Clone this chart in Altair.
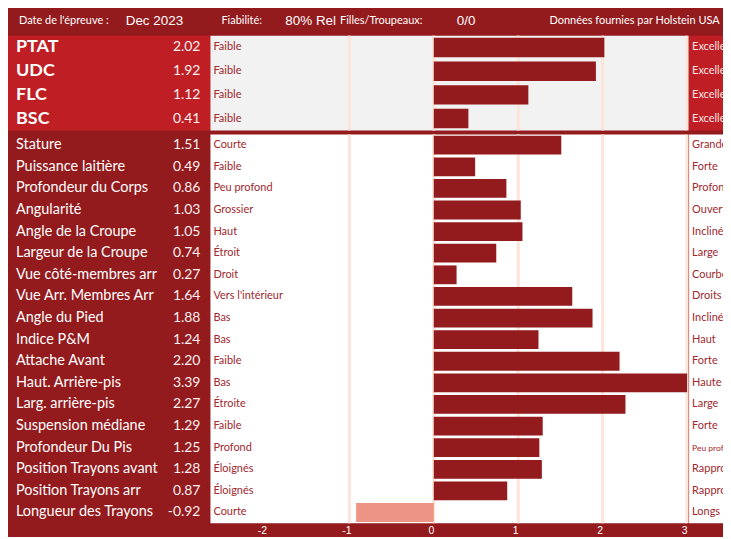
import altair as alt
import pandas as pd

DARK = "#931A1D"
BRIGHT = "#BE1E24"
GRAY = "#F2F2F2"
SALMON = "#EE9484"
GRIDC = "#FDE3D8"
TXT = "#A0282E"

# ---------------- data ----------------
header_texts = ["Date de l'épreuve :", "Dec 2023", "Fiabilité:", "80% Rel",
                "Filles/Troupeaux:", "0/0", "Données fournies par Holstein USA"]

top_traits = ["PTAT", "UDC", "FLC", "BSC"]
top_values = [2.02, 1.92, 1.12, 0.41]
top_low = ["Faible", "Faible", "Faible", "Faible"]
top_high = ["Excellent", "Excellent", "Excellent", "Excellent"]

traits = ["Stature", "Puissance laitière", "Profondeur du Corps", "Angularité",
          "Angle de la Croupe", "Largeur de la Croupe", "Vue côté-membres arr",
          "Vue Arr. Membres Arr", "Angle du Pied", "Indice P&M", "Attache Avant",
          "Haut. Arrière-pis", "Larg. arrière-pis", "Suspension médiane",
          "Profondeur Du Pis", "Position Trayons avant", "Position Trayons arr",
          "Longueur des Trayons"]
values = [1.51, 0.49, 0.86, 1.03, 1.05, 0.74, 0.27, 1.64, 1.88, 1.24, 2.20,
          3.39, 2.27, 1.29, 1.25, 1.28, 0.87, -0.92]
low = ["Courte", "Faible", "Peu profond", "Grossier", "Haut", "Étroit", "Droit",
       "Vers l'intérieur", "Bas", "Bas", "Faible", "Bas", "Étroite", "Faible",
       "Profond", "Éloignés", "Éloignés", "Courte"]
high = ["Grande", "Forte", "Profond", "Ouverte", "Inclinée", "Large", "Courbés",
        "Droits", "Incliné", "Haut", "Forte", "Haute", "Large", "Forte",
        "Peu profond", "Rapprochés", "Rapprochés", "Longs"]

axis_ticks = [-2, -1, 0, 1, 2, 3]
grid_vals = [-1, 0, 1, 2, 3]

# ---------------- layout ----------------
X_DOMAIN = [-2.645, 3.0]
LEFT_W, MID_W, RIGHT_W = 203, 478, 34
TOTAL_W = LEFT_W + MID_W + RIGHT_W


def frame(names, vals, lo, hi):
    return pd.DataFrame({"trait": names, "value": vals,
                         "vlabel": [f"{v:.2f}" for v in vals],
                         "low": lo, "high": hi})


top_df = frame(top_traits, top_values, top_low, top_high)
bot_df = frame(traits, values, low, high)
grid_df = pd.DataFrame({"g": grid_vals})


def block(df, order, height, bar_band, label_size, label_weight, value_size,
          left_fill, mid_fill, right_fill, right_color, show_axis):
    y = alt.Y("trait:N", sort=order, axis=None,
              scale=alt.Scale(paddingInner=0, paddingOuter=0))
    xs = alt.Scale(domain=X_DOMAIN, nice=False, zero=False)
    if show_axis:
        ax = alt.Axis(values=axis_ticks, labelColor="white", labelFont="Liberation Sans",
                      labelFontSize=10.5, domain=False, ticks=False, grid=False,
                      labelPadding=2, labelOffset=-3, title=None, labelFlush=False,
                      labelExpr="datum.value < 0 ? '-' + abs(datum.value) : '' + datum.value")
    else:
        ax = None
    base = alt.Chart(df)

    lbl = base.mark_text(align="left", baseline="middle", font="Lato",
                         fontSize=label_size, fontWeight=label_weight,
                         color="white").encode(x=alt.value(8), y=y, text="trait:N")
    val = base.mark_text(align="right", baseline="middle", font="Lato",
                         fontSize=value_size, color="#F7F0F0").encode(
        x=alt.value(193), y=y, text="vlabel:N")
    left = alt.layer(lbl, val).properties(
        width=LEFT_W, height=height,
        view=alt.ViewBackground(fill=left_fill, stroke=None))

    rules = alt.Chart(grid_df).mark_rule(color=GRIDC, strokeWidth=3).encode(
        x=alt.X("g:Q", scale=xs, axis=ax))
    bars = base.mark_bar(height=alt.RelativeBandSize(band=bar_band), clip=True).encode(
        x=alt.X("value:Q", scale=xs, axis=ax),
        x2=alt.datum(0),
        y=y,
        color=alt.condition("datum.value < 0", alt.value(SALMON), alt.value(DARK)))
    lowtxt = base.mark_text(align="left", baseline="middle", font="Lato",
                            fontSize=11, color=TXT).encode(
        x=alt.value(3), y=y, text="low:N")
    mid = alt.layer(rules, bars, lowtxt).properties(
        width=MID_W, height=height,
        view=alt.ViewBackground(fill=mid_fill, stroke=None))

    hi = base.mark_text(align="left", baseline="middle", font="Lato",
                        color=right_color, clip=True).encode(
        x=alt.value(3), y=y, text="high:N",
        size=alt.condition("length(datum.high) > 10", alt.value(8.5), alt.value(11)))
    right = alt.layer(hi).properties(
        width=RIGHT_W, height=height,
        view=alt.ViewBackground(fill=right_fill, stroke=None))

    return alt.hconcat(left, mid, right, spacing=0)


# header
hdr_x = [11, 118, 214, 278, 333, 450, 543]
hdr_font = ["Lato", "Liberation Sans", "Lato", "Liberation Sans", "Lato",
            "Liberation Sans", "Lato"]
hdr_size = [11, 13.5, 11, 13.5, 11, 13.5, 11]
hdr_layers = []
for t, hx, hf, hs in zip(header_texts, hdr_x, hdr_font, hdr_size):
    hdr_layers.append(
        alt.Chart(pd.DataFrame({"t": [t]})).mark_text(
            align="left", baseline="middle", font=hf, fontSize=hs, color="white"
        ).encode(x=alt.value(hx), y=alt.value(12), text="t:N"))
header = alt.layer(*hdr_layers).properties(
    width=TOTAL_W, height=25, view=alt.ViewBackground(fill=DARK, stroke=None))

top_row = block(top_df, top_traits, 95, 0.82, 18, "bold", 14,
                BRIGHT, GRAY, BRIGHT, "#F8E2E2", False)
bot_row = block(bot_df, traits, 390, 0.87, 14.5, "normal", 14,
                DARK, "white", "white", TXT, True)

chart = alt.vconcat(header, top_row, bot_row, spacing=0).properties(
    padding=0, background=DARK
).configure_view(stroke=None)

chart.save("out.html", embed_options={"renderer": "svg", "actions": False})
